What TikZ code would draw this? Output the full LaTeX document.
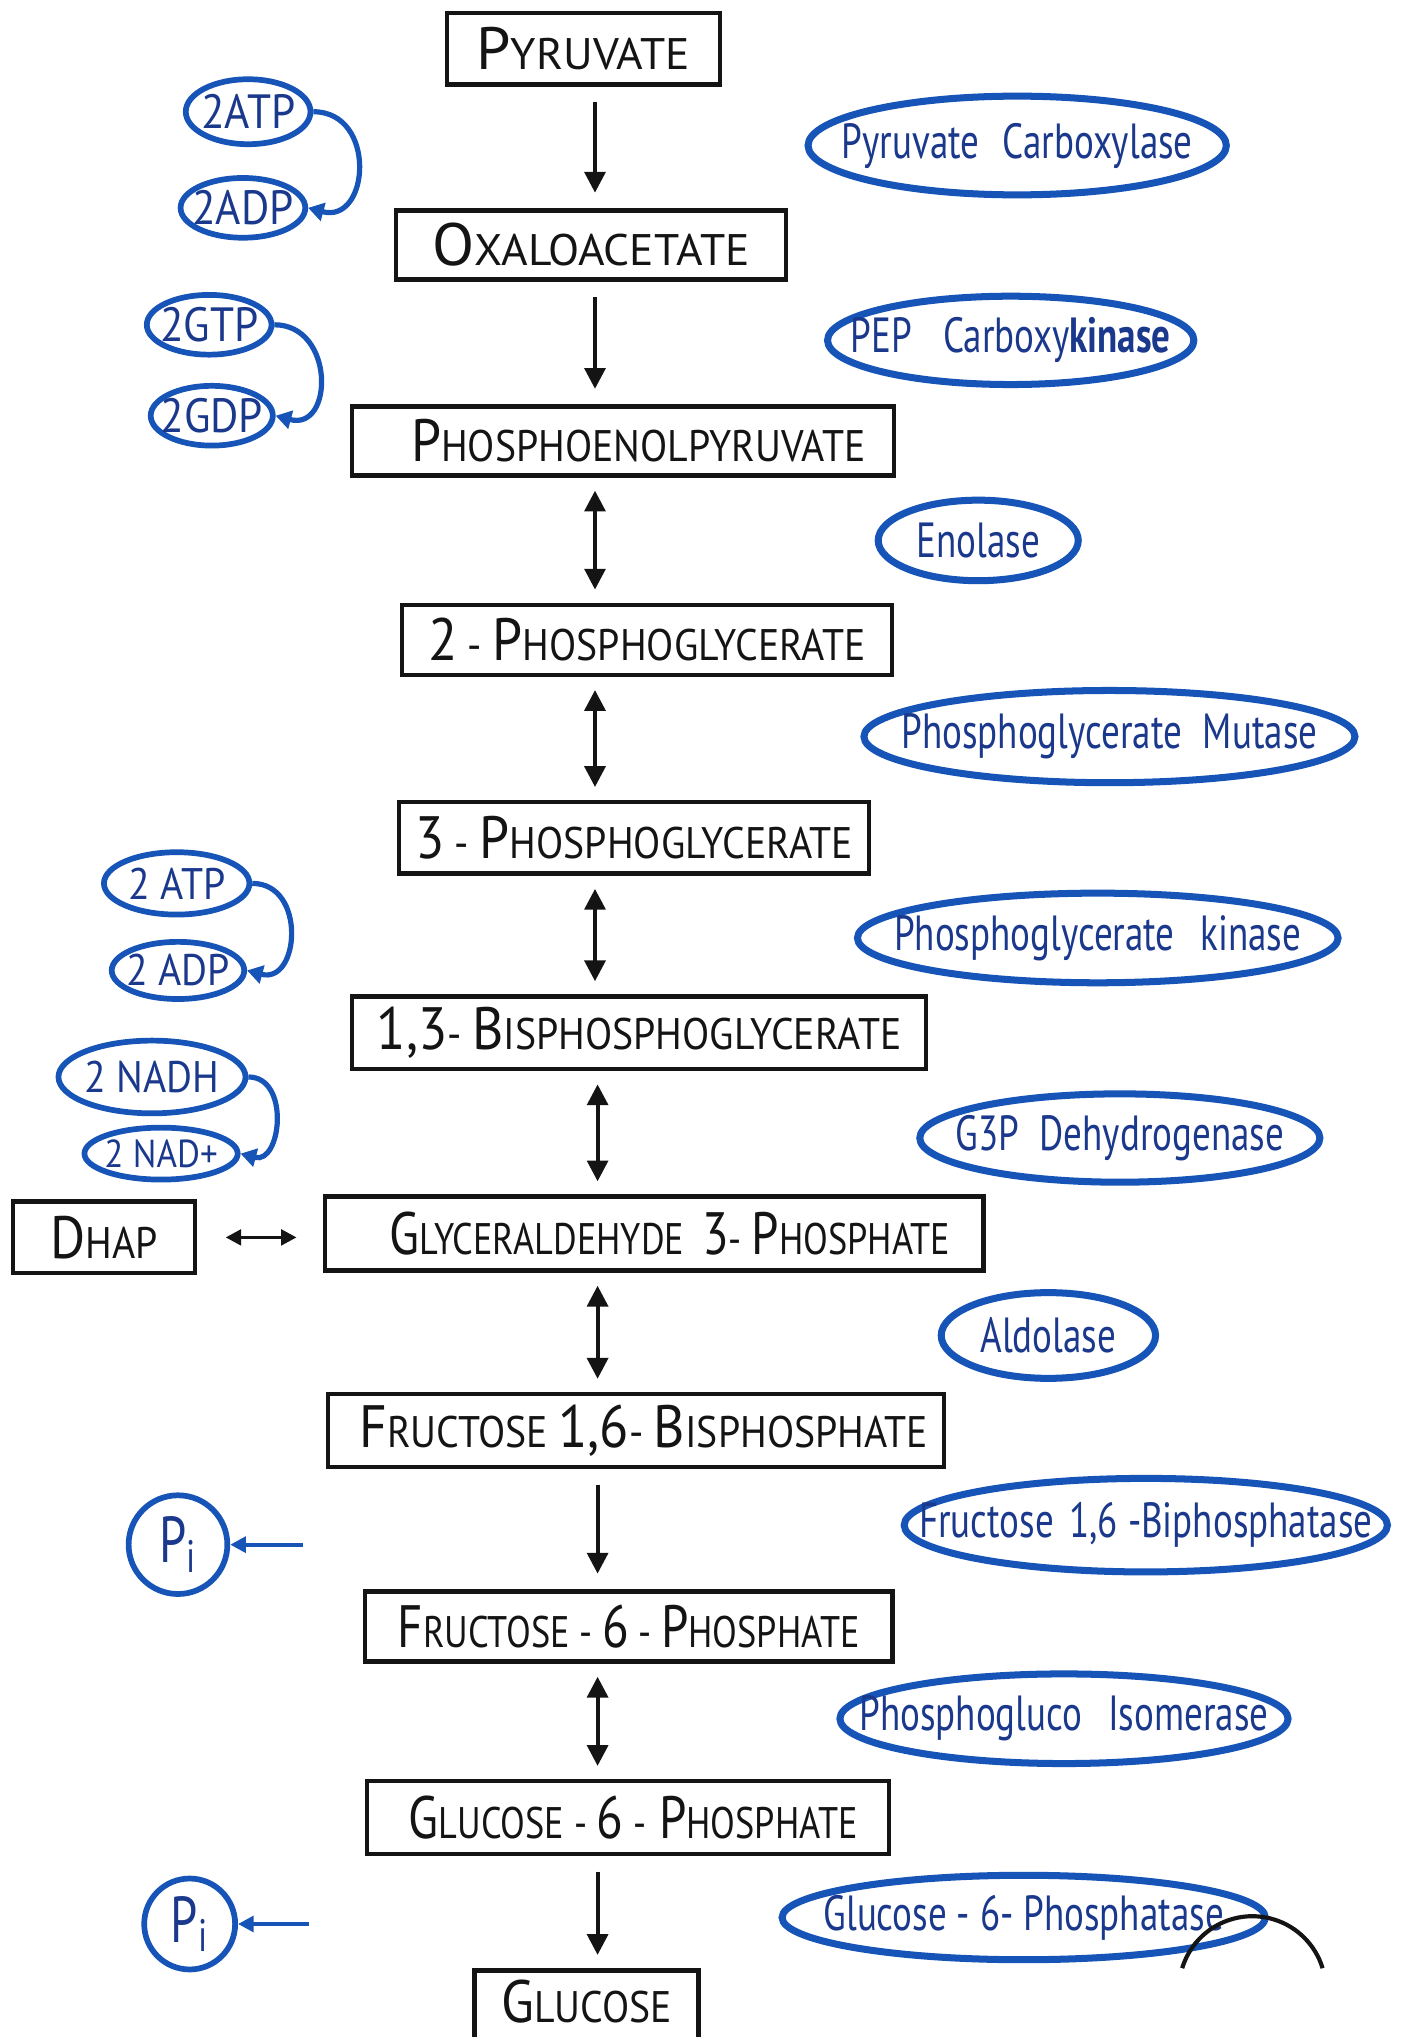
\documentclass[tikz,border=0pt]{standalone}
\usepackage{fontspec}
\setmainfont{PT Sans}
\newfontfamily\boxfont[FakeStretch=0.9]{PT Sans}
\newfontfamily\boxnarrowfont[FakeStretch=0.82]{PT Sans}
\newfontfamily\boxwidefont[FakeStretch=1.03]{PT Sans}
\newfontfamily\handfont[FakeStretch=0.75]{PT Sans}
\newfontfamily\cofont[FakeStretch=0.9]{PT Sans}
\usetikzlibrary{arrows.meta,shapes.geometric}
\definecolor{ink}{RGB}{20,20,20}
\definecolor{penblue}{RGB}{22,84,184}
\definecolor{textblue}{RGB}{26,56,140}
% large initial letters of the small-caps compound names
\newcommand\Bc[1]{{\fontsize{23pt}{23pt}\selectfont #1}}
% text that does not widen the shape around it (optional shift to the right)
\newcommand\inside[2][0pt]{\makebox[0pt]{\hspace*{#1}#2}}

\begin{document}
\begin{tikzpicture}[x=0.5pt,y=-0.5pt,
  compound/.style={draw=ink, line width=1.7pt, rectangle, inner sep=0pt,
    font=\boxfont\fontsize{17pt}{17pt}\selectfont, text=ink},
  enzyme/.style={draw=penblue, line width=2.7pt, ellipse, inner sep=0pt,
    font=\handfont\fontsize{19pt}{19pt}\selectfont, text=textblue},
  cofactor/.style={draw=penblue, line width=2.2pt, ellipse, inner sep=0pt,
    font=\cofont\fontsize{18.5pt}{18.5pt}\selectfont, text=textblue},
  phosphate/.style={draw=penblue, line width=2.2pt, circle, inner sep=0pt,
    font=\handfont\fontsize{25pt}{25pt}\selectfont, text=textblue},
  fwd/.style={draw=ink, line width=1.5pt, -{Triangle[width=8pt,length=8pt]},
    shorten <=6pt, shorten >=6pt},
  rev/.style={draw=ink, line width=1.5pt,
    {Triangle[width=8pt,length=8pt]}-{Triangle[width=8pt,length=8pt]},
    shorten <=5pt, shorten >=5pt},
  revsmall/.style={draw=ink, line width=1.4pt,
    {Triangle[width=6pt,length=6pt]}-{Triangle[width=6pt,length=6pt]},
    shorten <=11pt, shorten >=10pt},
  transfer/.style={draw=penblue, line width=2pt, -{Triangle[width=7pt,length=6pt]}},
  release/.style={draw=penblue, line width=1.6pt, -{Triangle[width=6pt,length=6pt]}},
]
\fill[white] (0,0) rectangle (1079,1568);
\useasboundingbox (0,0) rectangle (1079,1568);

% pathway axis
\coordinate (ax) at (458,0);
\coordinate (bx) at (460,0);

% compounds
\node[compound, minimum width=105pt, minimum height=27.5pt] (pyr) at (449,37.5) {\inside{\boxwidefont\Bc{P}YRUVATE}};
\node[compound, minimum width=150pt, minimum height=26.5pt] (oaa) at (455,188.5) {\inside{\boxwidefont\Bc{O}XALOACETATE}};
\node[compound, minimum width=208.5pt, minimum height=26.5pt] (pep) at (479.5,339.5) {\inside[12pt]{\Bc{P}HOSPHOENOLPYRUVATE}};
\node[compound, minimum width=188.5pt, minimum height=27pt] (pga2) at (498,492.5) {\inside{\Bc{2} - \Bc{P}HOSPHOGLYCERATE}};
\node[compound, minimum width=181pt, minimum height=27.5pt] (pga3) at (488,645) {\inside{\Bc{3} - \Bc{P}HOSPHOGLYCERATE}};
\node[compound, minimum width=221pt, minimum height=28pt] (bpg) at (492,795) {\inside{\Bc{1,3}- \Bc{B}ISPHOSPHOGLYCERATE}};
\node[compound, minimum width=253.5pt, minimum height=28.5pt] (gap) at (503.5,949.5) {\inside[12pt]{\boxnarrowfont\Bc{G}LYCERALDEHYDE\hspace{7pt}\Bc{3}- \Bc{P}HOSPHATE}};
\node[compound, minimum width=70pt, minimum height=27.5pt] (dhap) at (80,952.5) {\inside{\Bc{D}HAP}};
\node[compound, minimum width=237pt, minimum height=28pt] (fbp) at (489.5,1101) {\inside[6pt]{\Bc{F}RUCTOSE\hspace{4pt}\Bc{1,6}- \Bc{B}ISPHOSPHATE}};
\node[compound, minimum width=203pt, minimum height=27pt] (f6p) at (484,1252) {\inside{\boxnarrowfont\Bc{F}RUCTOSE - \Bc{6} - \Bc{P}HOSPHATE}};
\node[compound, minimum width=201pt, minimum height=28pt] (g6p) at (483.5,1399) {\inside[4pt]{\boxnarrowfont\Bc{G}LUCOSE - \Bc{6} -\hspace{5pt}\Bc{P}HOSPHATE}};
% the last box runs off the lower edge: only its top and sides are drawn
\node[compound, draw=none, minimum width=84.5pt, minimum height=24.75pt] (glc) at (451.5,1543.25) {\inside{\raisebox{3pt}{\Bc{G}LUCOSE}}};
\draw[ink, line width=1.7pt] (glc.south west) -- (glc.north west) -- (glc.north east) -- (glc.south east);

% reactions
\draw[fwd] (pyr.south -| ax) -- (oaa.north -| ax);
\draw[fwd] (oaa.south -| ax) -- (pep.north -| ax);
\draw[rev] (pep.south -| ax) -- (pga2.north -| ax);
\draw[rev] (pga2.south -| ax) -- (pga3.north -| ax);
\draw[rev] (pga3.south -| ax) -- (bpg.north -| ax);
\draw[rev] (bpg.south -| bx) -- (gap.north -| bx);
\draw[rev] (gap.south -| bx) -- (fbp.north -| bx);
\draw[fwd] (fbp.south -| bx) -- (f6p.north -| bx);
\draw[rev] (f6p.south -| bx) -- (g6p.north -| bx);
\draw[fwd] (g6p.south -| bx) -- (glc.north -| bx);
\draw[revsmall] (dhap.east) -- (dhap.east -| gap.west);

% enzymes
\node[enzyme, minimum width=161pt, minimum height=38pt] (pc) at (783,112) {\inside{Pyruvate\hspace{9pt}Carboxylase}};
\node[enzyme, minimum width=141pt, minimum height=34pt] (pepck) at (778,262) {\inside{PEP\hspace{12pt}Carboxy\textbf{kinase}}};
\node[enzyme, minimum width=77pt, minimum height=31pt] (eno) at (753,416) {\inside{Enolase}};
\node[enzyme, minimum width=189pt, minimum height=35.5pt] (pgm) at (854,567) {\inside{Phosphoglycerate\hspace{8pt}Mutase}};
\node[enzyme, minimum width=185pt, minimum height=34.5pt] (pgk) at (845,722) {\inside{Phosphoglycerate\hspace{10pt}kinase}};
\node[enzyme, minimum width=154pt, minimum height=34pt] (gapdh) at (862,876) {\inside{G3P\hspace{8pt}Dehydrogenase}};
\node[enzyme, minimum width=82.5pt, minimum height=33pt] (ald) at (807,1028) {\inside{Aldolase}};
\node[enzyme, minimum width=186pt, minimum height=36pt] (fbpase) at (882,1174) {\inside{Fructose\hspace{6pt}1,6 -Biphosphatase}};
\node[enzyme, minimum width=172.5pt, minimum height=34.5pt] (pgi) at (819,1323) {\inside{Phosphogluco\hspace{10pt}Isomerase}};
\node[enzyme, minimum width=186pt, minimum height=32.5pt] (g6pase) at (788,1476) {\inside{Glucose - 6- Phosphatase}};

% cofactors
\node[cofactor, minimum width=48pt, minimum height=25pt] (atpa) at (191,86) {\inside{2ATP}};
\node[cofactor, minimum width=48pt, minimum height=23pt] (adpa) at (187,160) {\inside{2ADP}};
\node[cofactor, minimum width=48pt, minimum height=23pt] (gtp) at (161,250) {\inside{2GTP}};
\node[cofactor, minimum width=47pt, minimum height=23pt] (gdp) at (163,320) {\inside{2GDP}};
\node[cofactor, minimum width=56pt, minimum height=24pt, font=\cofont\fontsize{17pt}{17pt}\selectfont] (atpb) at (136,680) {\inside{2 ATP}};
\node[cofactor, minimum width=51pt, minimum height=22pt, font=\cofont\fontsize{17pt}{17pt}\selectfont] (adpb) at (137,747) {\inside{2 ADP}};
\node[cofactor, minimum width=72pt, minimum height=28pt, font=\cofont\fontsize{17pt}{17pt}\selectfont] (nadh) at (117,829) {\inside{2 NADH}};
\node[cofactor, minimum width=59pt, minimum height=20pt, font=\cofont\fontsize{15pt}{15pt}\selectfont] (nad) at (124,888) {\inside{2 NAD+}};

\draw[transfer] (atpa.east) to[out=0,in=-15,looseness=1.7] (adpa.east);
\draw[transfer] (gtp.east) to[out=0,in=-15,looseness=1.7] (gdp.east);
\draw[transfer] (atpb.east) to[out=0,in=-15,looseness=1.6] (adpb.east);
\draw[transfer] (nadh.east) to[out=0,in=-15,looseness=1.4] (nad.east);

% released phosphate
\node[phosphate, minimum size=38pt] (pia) at (137,1189) {\inside{P\textsubscript{i}}};
\node[phosphate, minimum size=35pt] (pib) at (146,1481) {\inside{P\textsubscript{i}}};
\coordinate (piatail) at (233,1189);
\coordinate (pibtail) at (238,1481);
\draw[release] (piatail) -- (pia.east);
\draw[release] (pibtail) -- (pib.east);

% stamp at the lower right edge
\draw[ink, line width=1.6pt] (910,1515) arc[start angle=-163, end angle=-17, radius=56.5];
\end{tikzpicture}
\end{document}
